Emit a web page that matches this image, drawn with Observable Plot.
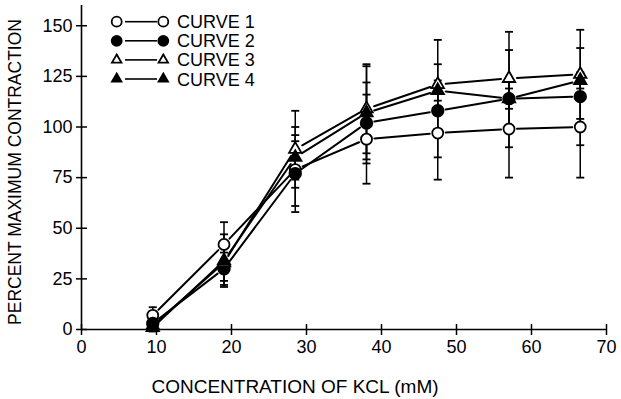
<!DOCTYPE html>
<html><head><meta charset="utf-8">
<script src="https://cdn.jsdelivr.net/npm/d3@7"></script>
<script src="https://cdn.jsdelivr.net/npm/@observablehq/plot@0.6"></script>
<style>body{margin:0;background:#fff}#chart{position:relative;width:621px;height:399px}</style>
</head><body><div id="chart"></div>
<script>
// ---- data ----
const concentrations = [9.5, 19, 28.5, 38, 47.5, 57, 66.5];
const curveNames = ["CURVE 1", "CURVE 2", "CURVE 3", "CURVE 4"];
const curve1 = [7, 42, 79, 94, 97, 99, 100];
const curve2 = [3, 30, 77, 102, 108, 114, 115];
const curve3 = [2, 33, 89, 109, 121, 124, 126];
const curve4 = [1, 34, 85, 107, 118, 114, 123];
const err1 = [4, 11, 21, 22, 23, 24, 25];
const err2 = [2, 8, 16, 20, 23, 24, 24];
const err3 = [2, 9, 19, 22, 22, 23, 22];
const err4 = [2, 13, 11, 23, 5, 5, 4];
const xTicks = [0, 10, 20, 30, 40, 50, 60, 70];
const yTicks = [0, 25, 50, 75, 100, 125, 150];
const xTitle = "CONCENTRATION OF KCL (mM)";
const yTitle = "PERCENT MAXIMUM CONTRACTION";

// ---- styles ----
const symbolOf = {"CURVE 1": "circle", "CURVE 2": "circle", "CURVE 3": "triangle", "CURVE 4": "triangle"};
const fillOf = {"CURVE 1": "white", "CURVE 2": "black", "CURVE 3": "white", "CURVE 4": "black"};
const rOf = {"CURVE 1": 5.5, "CURVE 2": 5.8, "CURVE 3": 4.6, "CURVE 4": 4.6};

const values = [curve1, curve2, curve3, curve4];
const errors = [err1, err2, err3, err4];
const rows = [];
const segments = [];
curveNames.forEach((name, i) => {
  concentrations.forEach((x, j) => {
    rows.push({curve: name, x, y: values[i][j], e: errors[i][j]});
    if (j > 0) segments.push({curve: name, x1: concentrations[j - 1], y1: values[i][j - 1], x2: x, y2: values[i][j]});
  });
});
const caps = rows.flatMap(d => [{x: d.x, y: d.y - d.e}, {x: d.x, y: d.y + d.e}]);

const lineSym = (hw, vertical) => ({draw(ctx) {
  if (vertical) { ctx.moveTo(0, -hw); ctx.lineTo(0, hw); }
  else { ctx.moveTo(-hw, 0); ctx.lineTo(hw, 0); }
}});
const vTick = lineSym(5.5, true), hTick = lineSym(5.5, false), hCap = lineSym(4, false);

const font = "'Liberation Sans', Arial, Helvetica, sans-serif";

const markerMarks = curveNames.map(name => Plot.dot(rows.filter(d => d.curve === name), {
  x: "x", y: "y", symbol: symbolOf[name], r: rOf[name],
  fill: fillOf[name], stroke: "black", strokeWidth: 1.8
}));

const plot = Plot.plot({
  width: 621, height: 399,
  marginLeft: 81, marginRight: 15, marginTop: 5, marginBottom: 70,
  x: {domain: [0, 70]},
  y: {domain: [0, 160]},
  style: {fontFamily: font, fontSize: "18px", background: "white", color: "black", overflow: "visible"},
  marks: [
    Plot.ruleY([0], {stroke: "black", strokeWidth: 1.6}),
    Plot.ruleX([0], {stroke: "black", strokeWidth: 1.6}),
    Plot.dot(xTicks, {x: d => d, y: 0, symbol: vTick, stroke: "black", strokeWidth: 1.5}),
    Plot.dot(yTicks, {x: 0, y: d => d, symbol: hTick, stroke: "black", strokeWidth: 1.5}),
    Plot.axisX({ticks: xTicks, tickSize: 0, tickPadding: 11, label: null, tickFormat: d => String(d)}),
    Plot.axisY({ticks: yTicks, tickSize: 0, tickPadding: 9, label: null, tickFormat: d => String(d)}),
    Plot.ruleX(rows, {x: "x", y1: d => d.y - d.e, y2: d => d.y + d.e, stroke: "black", strokeWidth: 1.5}),
    Plot.dot(caps, {x: "x", y: "y", symbol: hCap, stroke: "black", strokeWidth: 1.8}),
    Plot.arrow(segments, {x1: "x1", y1: "y1", x2: "x2", y2: "y2", headLength: 0, inset: 8, stroke: "black", strokeWidth: 2}),
    ...markerMarks
  ]
});
document.getElementById("chart").append(plot);

// ---- titles & legend (layout) ----
const svg = d3.select(plot);
svg.append("text").attr("x", 295).attr("y", 393).attr("text-anchor", "middle")
  .attr("font-family", font).attr("font-size", 19).attr("fill", "black").text(xTitle);
svg.append("text").attr("transform", "translate(21,172) rotate(-90)").attr("text-anchor", "middle")
  .attr("font-family", font).attr("font-size", 17.5).attr("fill", "black").text(yTitle);

const lg = svg.append("g");
curveNames.forEach((name, i) => {
  const y = 21.7 + i * 19.1;
  const type = symbolOf[name] === "circle" ? d3.symbolCircle : d3.symbolTriangle2;
  const r = symbolOf[name] === "circle" ? 5 : 4.5;
  const size = Math.PI * r * r;
  [116.7, 163.3].forEach(x => {
    lg.append("path").attr("d", d3.symbol(type, size)()).attr("transform", `translate(${x},${y})`)
      .attr("fill", fillOf[name]).attr("stroke", "black").attr("stroke-width", 1.8);
  });
  lg.append("line").attr("x1", 125).attr("x2", 157).attr("y1", y).attr("y2", y)
    .attr("stroke", "black").attr("stroke-width", 1.6);
  lg.append("text").attr("x", 177).attr("y", y + 6.5).attr("text-anchor", "start")
    .attr("font-family", font).attr("font-size", 18).attr("fill", "black").text(name);
});
</script>
</body></html>
